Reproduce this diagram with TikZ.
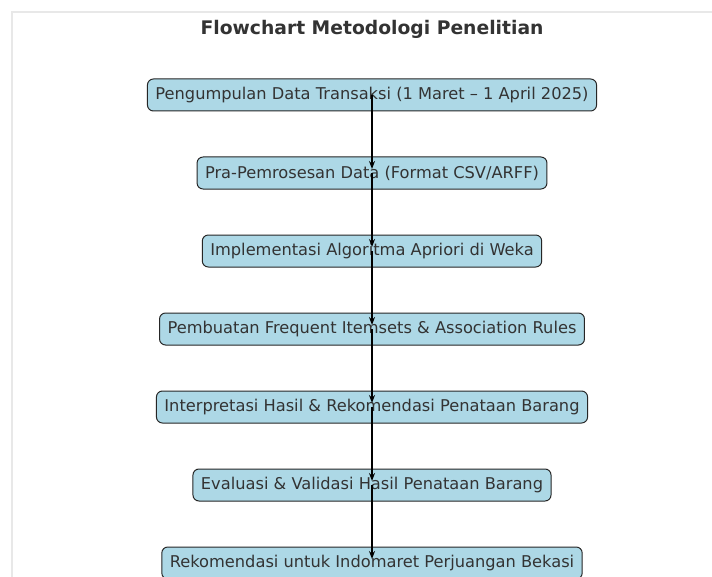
\documentclass[tikz,border=0pt]{standalone}
\usepackage{fontspec}
\setmainfont{DejaVu Sans}
\usetikzlibrary{arrows.meta}
\definecolor{boxfill}{HTML}{ADD8E6}
\definecolor{txt}{HTML}{333333}
\definecolor{framec}{HTML}{E8E8E8}
\tikzset{
  stepbox/.style={draw=black!85, fill=boxfill, rounded corners=6bp, line width=1bp,
    inner xsep=8bp, inner ysep=0bp, minimum height=32bp, text=txt, font=\fontsize{16.3}{18}\selectfont},
  arr/.style={draw=black, line width=1.5bp, -{Stealth[length=8bp,width=6bp]}},
  ttl/.style={text=txt, font=\fontsize{18.8}{22}\bfseries\selectfont}
}
\begin{document}
\begin{tikzpicture}[x=1bp,y=-1bp]
\useasboundingbox[fill=white] (0,0) rectangle (712,577);
\draw[framec, line width=1.5bp] (12,590) -- (12,12) -- (725,12);
\node[ttl] (title) at (372,29) {Flowchart Metodologi Penelitian};
\node[stepbox] (n1) at (372,95) {Pengumpulan Data Transaksi (1 Maret – 1 April 2025)};
\node[stepbox] (n2) at (372,173) {Pra-Pemrosesan Data (Format CSV/ARFF)};
\node[stepbox] (n3) at (372,251) {Implementasi Algoritma Apriori di Weka};
\node[stepbox] (n4) at (372,329) {Pembuatan Frequent Itemsets \& Association Rules};
\node[stepbox] (n5) at (372,407) {Interpretasi Hasil \& Rekomendasi Penataan Barang};
\node[stepbox] (n6) at (372,485) {Evaluasi \& Validasi Hasil Penataan Barang};
\node[stepbox] (n7) at (372,563) {Rekomendasi untuk Indomaret Perjuangan Bekasi};
\foreach \a/\b in {n1/n2,n2/n3,n3/n4,n4/n5,n5/n6,n6/n7}
  \draw[arr] (\a.center) -- ([yshift=4bp]\b.center);
\end{tikzpicture}
\end{document}
